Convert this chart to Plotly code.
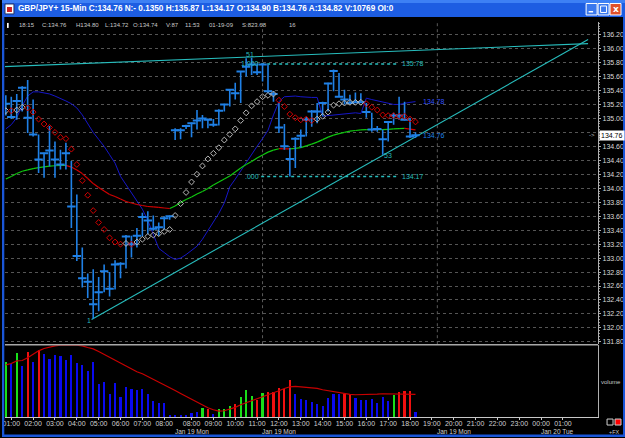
import plotly.graph_objects as go

W, H = 625, 438
FONT = "Liberation Sans, Arial, sans-serif"

# ---------------- data ----------------
bars = list(range(-1, 75))
high = [135.33, 135.31, 135.35, 135.46, 135.55, 135.27, 134.77, 134.51, 134.89, 134.67,
        134.55, 134.65, 134.39, 133.91, 133.15, 132.78, 132.84, 132.73, 132.91, 132.80,
        132.97, 132.94, 133.33, 133.32, 133.43, 133.65, 133.67, 133.61, 133.51, 133.60,
        133.61, 134.86, 134.86, 134.91, 134.94, 135.12, 135.05, 135.00, 134.99, 135.13,
        135.21, 135.42, 135.51, 135.67, 135.86, 135.87, 135.79, 135.79, 135.77, 135.39,
        135.22, 134.92, 134.58, 134.73, 134.84, 135.02, 135.12, 135.22, 135.24, 135.51,
        135.70, 135.65, 135.41, 135.34, 135.37, 135.36, 135.22, 135.08, 134.89, 134.84,
        134.96, 135.08, 135.31, 135.24, 135.01, 134.80]
low = [135.04, 134.99, 134.98, 135.10, 134.79, 134.74, 134.22, 134.15, 134.31, 134.15,
       134.27, 134.27, 133.43, 132.96, 132.58, 132.43, 132.13, 132.24, 132.51, 132.45,
       132.55, 132.71, 132.85, 133.01, 133.15, 133.31, 133.34, 133.39, 133.32, 133.41,
       133.55, 134.69, 134.70, 134.85, 134.73, 134.84, 134.86, 134.86, 134.88, 134.90,
       135.10, 135.17, 135.27, 135.22, 135.60, 135.62, 135.62, 135.53, 135.36, 135.24,
       134.79, 134.55, 134.17, 134.29, 134.58, 134.74, 134.88, 134.93, 135.03, 135.10,
       135.39, 135.31, 135.20, 135.22, 135.22, 135.22, 135.01, 134.81, 134.81, 134.48,
       134.67, 134.91, 134.98, 134.97, 134.72, 134.72]
close = [135.21, 135.02, 135.25, 135.44, 135.01, 134.77, 134.41, 134.50, 134.54, 134.41,
         134.34, 134.50, 133.74, 133.03, 132.71, 132.66, 132.34, 132.51, 132.81, 132.56,
         132.91, 132.92, 133.31, 133.20, 133.32, 133.59, 133.54, 133.42, 133.44, 133.57,
         133.60, 134.83, 134.83, 134.89, 134.93, 134.97, 135.00, 134.98, 134.91, 135.11,
         135.20, 135.41, 135.36, 135.67, 135.74, 135.77, 135.66, 135.77, 135.39, 135.35,
         134.87, 134.60, 134.42, 134.71, 134.75, 134.98, 135.10, 135.10, 135.22, 135.50,
         135.68, 135.31, 135.27, 135.22, 135.23, 135.23, 135.09, 134.84, 134.85, 134.70,
         134.95, 135.04, 135.04, 134.98, 134.74, 134.76]
blue_line = [134.85, 134.91, 135.01, 135.18, 135.32, 135.38, 135.38, 135.37, 135.35, 135.32,
             135.29, 135.25, 135.21, 135.15, 135.05, 134.92, 134.80, 134.70, 134.60, 134.48,
             134.36, 134.17, 134.05, 133.94, 133.82, 133.70, 133.54, 133.34, 133.14, 133.08,
             133.02, 132.98, 133.00, 133.05, 133.11, 133.17, 133.27, 133.39, 133.51, 133.64,
             133.79, 134.02, 134.13, 134.25, 134.37, 134.48, 134.60, 134.71, 134.83, 135.05,
             135.24, 135.31, 135.32, 135.32, 135.31, 135.30, 135.30, 135.30, 135.03, 135.04,
             135.05, 135.06, 135.07, 135.08, 135.08, 135.07, 135.29, 135.27, 135.25, 135.24,
             135.22, 135.20, 135.20, 135.22, 135.23, 135.24]
ma_line = [134.132, 134.168, 134.211, 134.243, 134.263, 134.282, 134.296, 134.307, 134.316, 134.322,
           134.326, 134.328, 134.303, 134.260, 134.210, 134.139, 134.067, 134.010, 133.960, 133.910,
           133.882, 133.846, 133.810, 133.789, 133.767, 133.753, 133.739, 133.732, 133.725, 133.717,
           133.710, 133.746, 133.796, 133.839, 133.875, 133.917, 133.953, 133.996, 134.046, 134.089,
           134.132, 134.175, 134.232, 134.289, 134.339, 134.382, 134.432, 134.475, 134.517, 134.546,
           134.566, 134.565, 134.563, 134.570, 134.582, 134.607, 134.632, 134.660, 134.696, 134.732,
           134.760, 134.782, 134.799, 134.817, 134.827, 134.836, 134.839, 134.840, 134.838, 134.840,
           134.843, 134.849, 134.853, 134.856, 134.846, 134.835]
psar = [135.11, 135.11, 135.12, 135.16, 135.15, 135.09, 134.99, 134.92, 134.87, 134.80,
        134.73, 134.71, 134.56, 134.34, 134.11, 133.90, 133.68, 133.51, 133.41, 133.29,
        133.23, 133.20, 133.21, 133.20, 133.23, 133.27, 133.31, 133.33, 133.35, 133.38,
        133.41, 133.61, 133.78, 133.94, 134.09, 134.20, 134.32, 134.42, 134.50, 134.58,
        134.69, 134.77, 134.85, 134.97, 135.08, 135.18, 135.24, 135.31, 135.33, 135.35,
        135.26, 135.17, 135.06, 135.01, 134.98, 134.99, 134.97, 134.99, 135.03, 135.09,
        135.19, 135.21, 135.22, 135.23, 135.23, 135.23, 135.21, 135.16, 135.12, 135.05,
        135.04, 135.04, 135.03, 135.03, 134.99, 134.95]
psar_dir = [1, -1, 1, 1, -1, -1, -1, -1, -1, -1,
            -1, -1, -1, -1, -1, -1, -1, -1, -1, -1,
            -1, -1, 1, -1, 1, 1, 1, 1, 1, 1,
            1, 1, 1, 1, 1, 1, 1, 1, 1, 1,
            1, 1, 1, 1, 1, 1, 1, 1, 1, 1,
            -1, -1, -1, -1, -1, -1, -1, 1, 1, 1,
            1, 1, 1, 1, 1, 1, -1, -1, -1, -1,
            -1, -1, -1, -1, -1, -1]
volume = [166, 160, 193, 152, 194, 166, 202, 188, 175, 187,
          182, 170, 187, 161, 155, 139, 164, 99, 106, 69,
          102, 61, 91, 84, 82, 85, 70, 49, 43, 41,
          6, 7, 7, 4, 11, 16, 28, 23, 10, 24,
          25, 32, 38, 60, 81, 64, 52, 73, 74, 74,
          88, 85, 110, 70, 55, 50, 45, 40, 34, 56,
          70, 69, 70, 69, 58, 52, 52, 53, 41, 59,
          49, 67, 74, 78, 79, 16]
vol_state = ["g", "b", "g", "b", "r", "b", "r", "b", "b", "b",
             "b", "b", "b", "b", "b", "b", "b", "b", "b", "b",
             "b", "b", "b", "b", "b", "b", "b", "b", "b", "b",
             "b", "b", "b", "b", "b", "b", "g", "r", "b", "g",
             "g", "g", "r", "g", "g", "g", "r", "g", "r", "r",
             "r", "r", "r", "b", "b", "b", "b", "b", "b", "b",
             "b", "b", "r", "r", "b", "b", "b", "b", "b", "b",
             "b", "g", "r", "r", "r", "b"]
vol_ma = [157, 161, 169, 170, 178, 188, 199, 206, 211, 214,
          216, 217, 217, 216, 214, 209, 205, 197, 188, 179,
          170, 161, 152, 143, 136, 130, 122, 113, 106, 98,
          89, 80, 71, 62, 53, 44, 35, 28, 22, 18,
          19, 23, 29, 37, 43, 49, 55, 61, 65, 71,
          79, 86, 91, 92, 91, 89, 88, 86, 82, 79,
          76, 73, 70, 68, 67, 67, 67, 68, 69, 70,
          70, 70, 70, 70, 69, 68]

tick_pos = [0, 4, 8, 12, 16, 20, 24, 28, 33, 37, 41, 45, 49, 53, 57, 61, 65, 69, 73,
            77, 81, 85, 89, 93, 97, 101]
tick_text = ["01:00", "02:00", "03:00", "04:00", "05:00", "06:00", "07:00", "08:00",
             "08:00", "09:00", "10:00", "11:00", "12:00", "13:00", "14:00", "15:00",
             "16:00", "17:00", "18:00", "19:00", "20:00", "21:00", "22:00", "23:00",
             "00:00", "01:00"]
date_pos = [33, 49, 81, 100]
date_text = ["Jan 19 Mon", "Jan 19 Mon", "Jan 19 Mon", "Jan 20 Tue"]
session_breaks = [46, 78]

price_ticks = [131.8, 132.0, 132.2, 132.4, 132.6, 132.8, 133.0, 133.2, 133.4, 133.6, 133.8,
               134.0, 134.2, 134.4, 134.6, 134.8, 135.0, 135.2, 135.4, 135.6, 135.8, 136.0, 136.2]

trend_low_x, trend_low_y = [14.7, 105.6], [132.12, 136.13]
trend_high_x, trend_high_y = [-1.7, 105.6], [135.74, 136.07]
fib_x = [45.75, 70.75]
fib_levels = [135.78, 134.17]
fib_names = ["1.000", ".000"]
last_price = 134.76

title_text = ("GBP/JPY+ 15-Min C:134.76 N:- 0.1350 H:135.87 L:134.17 O:134.90 "
              "B:134.76 A:134.82 V:10769 OI:0")
info_items = ["18:15", "C:134.76", "H134.80", "L:134.72", "O:134.74", "V:87",
              "11:53", "01-19-09", "S:823.68", "16"]

# ---------------- styling / layout helpers ----------------
def px(x):
    return x / W


def py(y):
    return 1 - y / H


BAR = "#1f80e6"
CYAN = "#27bdbd"
VCOL = {"g": "#19e019", "r": "#f01010", "b": "#0a0af0"}

fig = go.Figure()

# volume panel
fig.add_trace(go.Bar(x=bars, y=volume, width=0.4,
                     marker=dict(color=[VCOL[s] for s in vol_state], line=dict(width=0)),
                     xaxis="x2", yaxis="y2", hoverinfo="skip"))
fig.add_trace(go.Scatter(x=bars, y=vol_ma, mode="lines", line=dict(color="#c80000", width=1.2),
                         xaxis="x2", yaxis="y2", hoverinfo="skip"))

# blue indicator
fig.add_trace(go.Scatter(x=bars, y=blue_line, mode="lines", line=dict(color="#1616c8", width=1),
                         hoverinfo="skip"))

# moving average coloured by slope
gx, gy, rx, ry = [], [], [], []
for i in range(len(bars) - 1):
    sx = [bars[i], bars[i + 1], None]
    sy = [ma_line[i], ma_line[i + 1], None]
    if ma_line[i + 1] >= ma_line[i]:
        gx += sx
        gy += sy
    else:
        rx += sx
        ry += sy
fig.add_trace(go.Scatter(x=gx, y=gy, mode="lines", line=dict(color="#10c810", width=1.2),
                         hoverinfo="skip"))
fig.add_trace(go.Scatter(x=rx, y=ry, mode="lines", line=dict(color="#d00000", width=1.2),
                         hoverinfo="skip"))

# trend lines
fig.add_trace(go.Scatter(x=trend_low_x, y=trend_low_y, mode="lines",
                         line=dict(color=CYAN, width=1.1), hoverinfo="skip"))
fig.add_trace(go.Scatter(x=trend_high_x, y=trend_high_y, mode="lines",
                         line=dict(color=CYAN, width=1.1), hoverinfo="skip"))
# fib levels
for lv in fib_levels:
    fig.add_trace(go.Scatter(x=fib_x, y=[lv, lv], mode="lines",
                             line=dict(color=CYAN, width=1.5, dash="dot"), hoverinfo="skip"))

# price bars
wx, wy = [], []
for k, h, l in zip(bars, high, low):
    wx += [k, k, None]
    wy += [l, h, None]
fig.add_trace(go.Scatter(x=wx, y=wy, mode="lines", line=dict(color=BAR, width=1.6),
                         hoverinfo="skip"))
fig.add_trace(go.Scatter(x=bars, y=close, mode="markers",
                         marker=dict(symbol="line-ew", size=6, line=dict(color=BAR, width=2)),
                         hoverinfo="skip"))

# parabolic SAR
fig.add_trace(go.Scatter(x=bars, y=psar, mode="markers",
                         marker=dict(symbol="diamond-open", size=4.5,
                                     color=["#b8b8b8" if d > 0 else "#d40000" for d in psar_dir],
                                     line=dict(width=1)),
                         hoverinfo="skip"))

shapes = []
for s in session_breaks:
    shapes.append(dict(type="line", xref="x", yref="paper", x0=s, x1=s, y0=py(345), y1=py(22),
                       line=dict(color="#5a5a5a", width=1, dash="dot"), layer="below"))
shapes.append(dict(type="line", xref="paper", yref="paper", x0=px(3), x1=px(598),
                   y0=py(345.5), y1=py(345.5), line=dict(color="#a8a8a8", width=1.5)))
shapes += [
    dict(type="rect", xref="paper", yref="paper", x0=0, x1=1, y0=py(17), y1=1,
         fillcolor="#1d5de2", line=dict(width=0), layer="above"),
    dict(type="rect", xref="paper", yref="paper", x0=0, x1=1, y0=py(3), y1=1,
         fillcolor="#3d80f4", line=dict(width=0), layer="above"),
    dict(type="rect", xref="paper", yref="paper", x0=0, x1=px(2.3), y0=0, y1=py(17),
         fillcolor="#1a56d8", line=dict(width=0), layer="above"),
    dict(type="rect", xref="paper", yref="paper", x0=px(623), x1=1, y0=0, y1=py(17),
         fillcolor="#1a56d8", line=dict(width=0), layer="above"),
    dict(type="rect", xref="paper", yref="paper", x0=0, x1=1, y0=0, y1=py(435.5),
         fillcolor="#1a56d8", line=dict(width=0), layer="above"),
    dict(type="rect", xref="paper", yref="paper", x0=px(3), x1=px(12), y0=py(14), y1=py(4),
         fillcolor="#ffffff", line=dict(color="#203060", width=1), layer="above"),
    dict(type="rect", xref="paper", yref="paper", x0=px(5), x1=px(10), y0=py(12), y1=py(7),
         fillcolor="#d02020", line=dict(width=0), layer="above"),
    dict(type="rect", xref="paper", yref="paper", x0=px(586), x1=px(597), y0=py(15), y1=py(3.5),
         fillcolor="#3a78ee", line=dict(color="#ffffff", width=1), layer="above"),
    dict(type="rect", xref="paper", yref="paper", x0=px(588.5), x1=px(593), y0=py(12.5), y1=py(11),
         fillcolor="#ffffff", line=dict(width=0), layer="above"),
    dict(type="rect", xref="paper", yref="paper", x0=px(598), x1=px(609), y0=py(15), y1=py(3.5),
         fillcolor="#3a78ee", line=dict(color="#ffffff", width=1), layer="above"),
    dict(type="rect", xref="paper", yref="paper", x0=px(600.5), x1=px(606.5), y0=py(12.5), y1=py(6),
         fillcolor="rgba(0,0,0,0)", line=dict(color="#ffffff", width=1), layer="above"),
    dict(type="rect", xref="paper", yref="paper", x0=px(610), x1=px(621), y0=py(15), y1=py(3.5),
         fillcolor="#e0502a", line=dict(color="#ffffff", width=1), layer="above"),
    dict(type="rect", xref="paper", yref="paper", x0=px(5), x1=px(6.7), y0=py(28), y1=py(23),
         fillcolor="#ffffff", line=dict(width=0), layer="above"),
    dict(type="rect", xref="paper", yref="paper", x0=px(607), x1=px(613), y0=py(426), y1=py(420),
         fillcolor="#000000", line=dict(color="#d0d0d0", width=1), layer="above"),
    dict(type="rect", xref="paper", yref="paper", x0=px(615), x1=px(621), y0=py(426), y1=py(420),
         fillcolor="#ff0000", line=dict(color="#d0d0d0", width=1), layer="above"),
]

ann = []
ann.append(dict(x=px(14), y=py(8.7), xref="paper", yref="paper", xanchor="left", yanchor="middle",
                text="<b>" + title_text + "</b>", showarrow=False,
                font=dict(family=FONT, size=8.2, color="#ffffff")))
ann.append(dict(x=px(615.5), y=py(9.2), xref="paper", yref="paper", xanchor="center",
                yanchor="middle", text="<b>x</b>", showarrow=False,
                font=dict(family="DejaVu Sans", size=9, color="#ffffff")))
info_x = [15, 38, 72, 101, 129, 163, 182, 206, 239, 286]
for t, xx in zip(info_items, info_x):
    ann.append(dict(x=px(xx), y=py(25), xref="paper", yref="paper", xanchor="left",
                    yanchor="middle", text=t, showarrow=False,
                    font=dict(family=FONT, size=6, color="#c8c8c8")))
for d, t in zip(date_pos, date_text):
    ann.append(dict(x=d, y=py(432.6), xref="x2", yref="paper", xanchor="center",
                    yanchor="middle", text=t, showarrow=False,
                    font=dict(family=FONT, size=6.5, color="#d0d0d0")))
for lv, nm in zip(fib_levels, fib_names):
    ann.append(dict(x=fib_x[0], y=lv, xref="x", yref="y", xanchor="right", yanchor="middle",
                    text=nm, showarrow=False, font=dict(family=FONT, size=7, color=CYAN)))
    ann.append(dict(x=fib_x[1] + 0.4, y=lv, xref="x", yref="y", xanchor="left", yanchor="middle",
                    text=f"{lv:.2f}", showarrow=False, font=dict(family=FONT, size=7, color=CYAN)))
ann.append(dict(x=43.7, y=135.92, xref="x", yref="y", text="51", showarrow=False,
                font=dict(family=FONT, size=7, color=CYAN)))
ann.append(dict(x=14.2, y=132.10, xref="x", yref="y", text="1", showarrow=False,
                font=dict(family=FONT, size=7, color=CYAN)))
ann.append(dict(x=68.9, y=134.47, xref="x", yref="y", text="53", showarrow=False,
                font=dict(family=FONT, size=7, color=CYAN)))
ann.append(dict(x=bars[-1] + 1.0, y=blue_line[-1], xref="x", yref="y", xanchor="left",
                text="134.78", showarrow=False, font=dict(family=FONT, size=7, color="#3050ff")))
ann.append(dict(x=bars[-1] + 1.0, y=close[-1], xref="x", yref="y", xanchor="left",
                text=f"{close[-1]:.2f}", showarrow=False, font=dict(family=FONT, size=7, color=BAR)))
ann.append(dict(x=px(598.5), y=last_price, xref="paper", yref="y", xanchor="left",
                yanchor="middle", text=f"{last_price:.2f}", showarrow=False, bgcolor="#ffffff",
                borderpad=1, font=dict(family=FONT, size=7, color="#000000")))
ann.append(dict(x=px(596.5), y=last_price, xref="paper", yref="y", xanchor="right",
                yanchor="middle", text="->", showarrow=False,
                font=dict(family=FONT, size=6, color="#c0c0c0")))
ann.append(dict(x=px(599), y=py(383), xref="paper", yref="paper", xanchor="left",
                yanchor="middle", text="volume", showarrow=False,
                font=dict(family=FONT, size=6, color="#c8c8c8")))
ann.append(dict(x=px(614.5), y=py(432.5), xref="paper", yref="paper", xanchor="center",
                yanchor="middle", text="+FX", showarrow=False,
                font=dict(family=FONT, size=5.5, color="#c8c8c8")))

# the price box hides the 134.80 tick label, as in the reference
price_text = ["" if abs(v - 134.8) < 1e-6 else f"{v:.2f}" for v in price_ticks]

XR = [-1.15, 107.43]
fig.update_layout(
    width=W, height=H, autosize=False, margin=dict(l=0, r=0, t=0, b=0),
    paper_bgcolor="#000000", plot_bgcolor="#000000", showlegend=False,
    shapes=shapes, annotations=ann, bargap=0,
    xaxis=dict(domain=[px(3), px(598)], range=XR, anchor="y", showticklabels=False,
               showgrid=False, zeroline=False, showline=False, ticks=""),
    yaxis=dict(domain=[py(345), py(22)], range=[131.767, 136.381], anchor="x", side="right",
               tickmode="array", tickvals=price_ticks, ticktext=price_text,
               ticks="outside", ticklen=2, tickcolor="#b0b0b0",
               showline=True, linecolor="#b0b0b0", linewidth=1,
               showgrid=True, gridcolor="#555555", griddash="dot", gridwidth=1,
               zeroline=False, tickfont=dict(family=FONT, size=7, color="#d8d8d8"),
               minor=dict(dtick=0.04, tick0=131.8, ticks="outside", ticklen=1,
                          tickcolor="#909090", showgrid=False)),
    xaxis2=dict(domain=[px(3), px(598)], range=XR, anchor="y2", tickmode="array",
                tickvals=tick_pos, ticktext=tick_text, ticks="outside", ticklen=2,
                ticklabelstandoff=-2,
                tickangle=0, tickcolor="#c8c8c8", showline=True, linecolor="#c8c8c8",
                linewidth=1, showgrid=False, zeroline=False,
                tickfont=dict(family=FONT, size=7, color="#d0d0d0")),
    yaxis2=dict(domain=[py(418), py(346)], range=[0, 216], anchor="x2", side="right",
                showticklabels=False, showgrid=False, zeroline=False, showline=True,
                linecolor="#b0b0b0", linewidth=1, ticks=""),
)

fig.write_html("out.html")
